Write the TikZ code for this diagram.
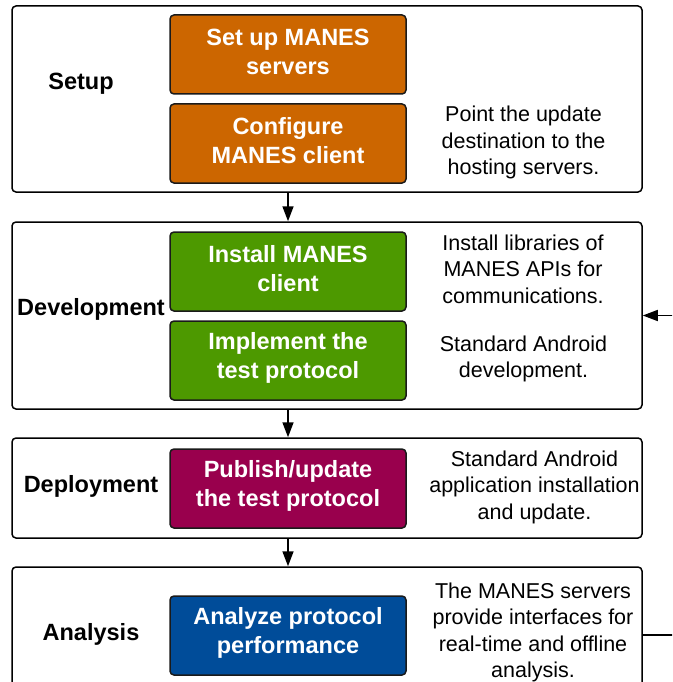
\documentclass[tikz,border=0pt]{standalone}
\usepackage{fontspec}
\setmainfont{Liberation Sans}
\usetikzlibrary{arrows.meta}
\definecolor{setupc}{HTML}{CC6600}
\definecolor{devc}{HTML}{4D9900}
\definecolor{depc}{HTML}{99004D}
\definecolor{anac}{HTML}{004C99}
\definecolor{edgec}{HTML}{1A1A1A}
% two centred lines of task text, set a little above the box centre
\newcommand{\tasktext}[1]{\raisebox{3pt}[\height][\depth]{\parbox{230pt}{\centering #1}}}
\begin{document}
\begin{tikzpicture}[x=1pt,y=-1pt,
  phase/.style={draw=black,line width=1.5pt,rounded corners=4pt,fill=white,
    minimum width=630pt,inner sep=0pt},
  task/.style={draw=edgec,line width=1.5pt,rounded corners=4pt,text=white,
    minimum width=236pt,minimum height=79pt,inner sep=0pt,
    font=\fontsize{23.5}{29}\selectfont\bfseries},
  phaselabel/.style={font=\fontsize{23.5}{28}\selectfont\bfseries,inner sep=0pt},
  note/.style={align=center,inner sep=0pt,font=\fontsize{21.5}{26.5}\selectfont},
  flow/.style={line width=1.6pt,-{Triangle[length=15pt,width=11pt]}}]
\useasboundingbox (0,0) rectangle (672,682);
\clip (0,0) rectangle (672,682);

% phase frames
\node[phase,minimum height=186pt] (setup) at (327,99) {};
\node[phase,minimum height=187pt] (dev) at (327,315.5) {};
\node[phase,minimum height=100pt] (dep) at (327,488) {};
\node[phase,minimum height=130pt] (ana) at (327,632) {};

% phase names
\node[phaselabel] (lsetup) at (81,84) {Setup};
\node[phaselabel] (ldev) at (91,309) {Development};
\node[phaselabel] (ldep) at (91,486) {Deployment};
\node[phaselabel] (lana) at (91,634) {Analysis};

% tasks
\node[task,fill=setupc] (s1) at (288,54.5) {\tasktext{Set up MANES\\servers}};
\node[task,fill=setupc] (s2) at (288,143.5) {\tasktext{Configure\\MANES client}};
\node[task,fill=devc] (d1) at (288,271.5) {\tasktext{Install MANES\\client}};
\node[task,fill=devc] (d2) at (288,360.5) {\tasktext{Implement the\\test protocol}};
\node[task,fill=depc] (p1) at (288,488.5) {\tasktext{Publish/update\\the test protocol}};
\node[task,fill=anac] (a1) at (288,635.5) {\tasktext{Analyze protocol\\performance}};

% notes
\node[note] (nsetup) at (523.5,142.5) {Point the update\\destination to the\\hosting servers.};
\node[note] (ndev1) at (523,269) {Install libraries of\\MANES APIs for\\communications.};
\node[note] (ndev2) at (523.5,359) {Standard Android\\development.};
\node[note] (ndep) at (534.5,487) {Standard Android\\application installation\\and update.};
\node[note] (nana) at (533,632.5) {The MANES servers\\provide interfaces for\\real-time and offline\\analysis.};

% flow between phases
\draw[flow] (s2 |- setup.south) -- (s2 |- dev.north);
\draw[flow] (s2 |- dev.south) -- (s2 |- dep.north);
\draw[flow] (s2 |- dep.south) -- (s2 |- ana.north);

% feedback from analysis to development
\coordinate (back) at (690,635);
\draw[flow] (ana.east |- back) -- (back) |- (dev.east);
\end{tikzpicture}
\end{document}
